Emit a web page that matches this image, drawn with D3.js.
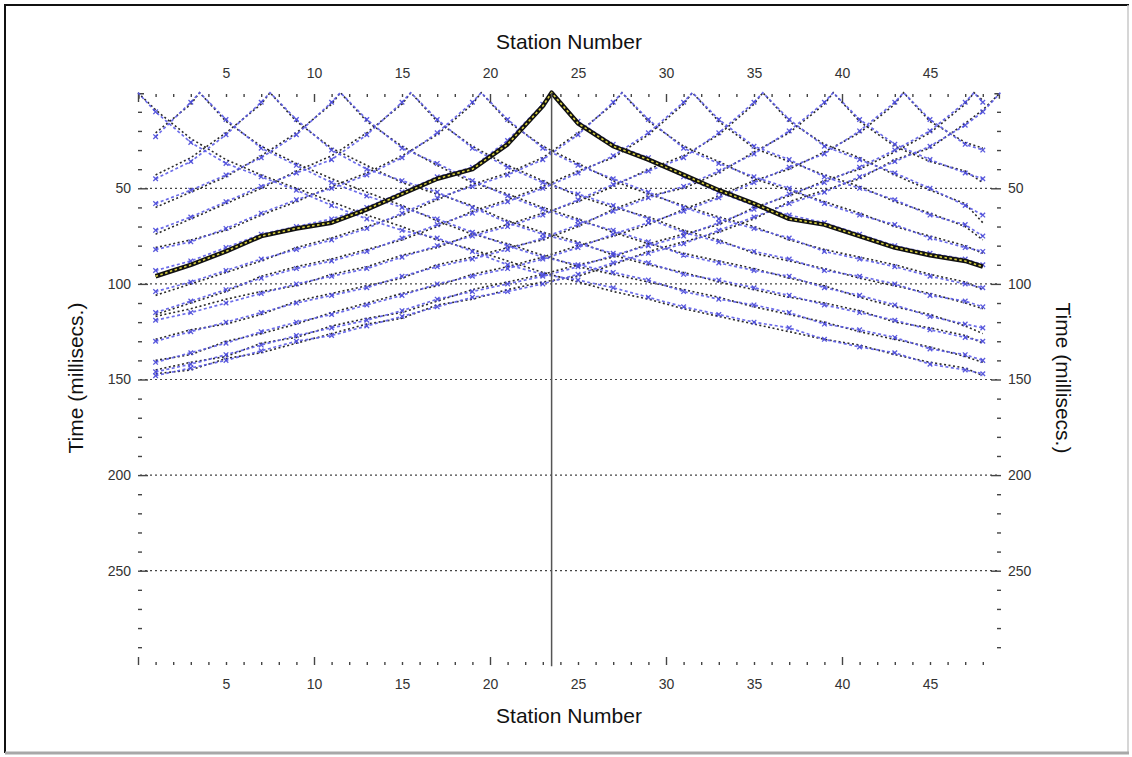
<html>
<meta charset="utf-8">
<script src="https://cdn.jsdelivr.net/npm/d3@7"></script>
<style>
body{
  margin: 0;
  background-color: white;
}
.axis text{
  font: 14px "Liberation Sans", Arial, sans-serif;
  fill: #333;
}
.axis line{
  stroke: #444;
  stroke-width: 1.4;
}
.title{
  font: 21px "Liberation Sans", Arial, sans-serif;
  fill: #111;
}
.grid{
  stroke: #444;
  stroke-width: 1.2;
  stroke-dasharray: 2,3;
}
.pick{
  fill: none;
  stroke: #5c5ce8;
  stroke-width: 1.7;
  stroke-dasharray: 3,2.5;
  opacity: 0.9;
}
.mark{
  fill: none;
  stroke: #4848d8;
  stroke-width: 1.3;
  opacity: 0.9;
}
.model{
  fill: none;
  stroke: #2a2a2a;
  stroke-width: 1.6;
  stroke-dasharray: 2,2.5;
}
</style>
<body>
<div id="chartDiv"></div>

<script>
// stations where picks were read, and shot positions (station numbers)
var stations = [1,3,5,7,9,11,13,15,17,19,21,23,25,27,29,31,33,35,37,39,41,43,45,47,48];
var shots = [0,3.5,7.5,11.5,15.5,19.5,23.5,27.5,31.5,35.5,39.5,43.5,47.5,49];
var activeShot = 23.5;

// picked first-break times (ms), one array per shot
var pick0    = [10,26,37,44,51,59,66,72,76,83,90,95,98,102,107,112,116,120,123,129,133,136,142,145,147];
var pick3_5  = [23,5,14,29,38,47,54,60,66,73,80,86,90,94,98,104,108,111,115,121,124,128,134,137,140];
var pick7_5  = [45,36,22,5,14,30,40,46,52,60,68,74,79,84,89,95,98,102,106,111,115,119,124,128,130];
var pick11_5 = [58,51,43,34,22,5,14,29,37,46,54,61,67,72,78,85,89,93,96,102,106,111,117,121,123];
var pick15_5 = [72,65,57,49,42,35,22,5,14,29,39,47,53,59,66,73,78,83,87,93,96,100,106,109,112];
var pick19_5 = [82,78,71,63,56,50,43,34,21,5,14,29,38,45,52,60,66,71,76,83,87,91,96,100,102];
var pick23_5 = [93,88,81,74,70,66,60,52,44,39,25,6,15,27,34,44,52,59,64,68,74,80,84,87,90];
var pick27_5 = [104,99,93,87,82,77,71,63,55,49,43,35,22,5,14,29,37,44,50,58,64,69,76,81,83];
var pick31_5 = [115,109,103,97,92,88,83,76,69,63,57,50,42,33,21,5,14,28,35,44,50,56,64,69,75];
var pick35_5 = [119,115,110,105,100,96,92,86,80,75,70,64,56,48,41,34,21,5,14,28,35,42,50,59,64];
var pick39_5 = [130,125,120,115,110,106,102,96,91,87,82,76,69,62,55,49,41,32,20,5,14,27,35,42,45];
var pick43_5 = [141,136,131,125,120,116,111,106,100,96,92,87,81,74,68,62,55,47,39,32,20,5,14,27,30];
var pick47_5 = [146,142,137,132,127,123,119,114,108,104,100,96,91,85,80,75,68,61,53,47,39,30,20,5,5];
var pick49   = [148,144,140,135,130,127,122,117,112,107,104,100,95,89,84,79,72,65,58,52,44,36,28,17,10];

// modelled times (ms)
var model0    = [9,24,35,43,50,57,64,70,77,82,88,94,99,104,108,113,117,121,125,129,132,137,141,144,148];
var model3_5  = [21,6,15,28,37,45,52,59,67,74,79,85,91,95,99,103,107,112,116,120,125,129,133,138,141];
var model7_5  = [43,34,21,6,15,29,38,47,53,59,67,73,78,85,90,94,99,103,107,110,114,120,123,127,131];
var model11_5 = [60,52,44,33,21,6,15,28,38,47,53,60,66,73,79,84,88,92,97,101,107,112,116,122,126];
var model15_5 = [74,66,58,50,41,33,21,6,15,28,38,46,54,60,65,72,77,84,88,92,97,101,105,110,113];
var model19_5 = [81,77,72,64,57,49,42,33,22,6,15,28,37,46,53,59,65,70,77,82,86,90,95,99,103];
var model23_5 = [96,90,83,75,71,68,61,53,45,40,27,7,16,28,35,43,51,58,66,69,75,81,85,88,91];
var model27_5 = [106,100,94,88,81,76,70,64,56,48,42,34,21,6,15,28,36,45,51,57,63,70,75,80,84];
var model31_5 = [116,110,104,96,91,87,82,77,70,62,56,49,41,34,22,6,15,29,36,43,49,57,63,70,77];
var model35_5 = [117,113,108,104,101,95,91,85,81,74,69,63,57,49,40,33,22,6,15,27,34,43,51,58,68];
var model39_5 = [129,124,121,116,109,105,101,97,90,86,81,77,70,61,54,50,42,31,21,6,15,28,36,41,47];
var model43_5 = [140,137,130,126,121,115,110,105,101,95,91,86,80,75,69,61,54,46,40,31,21,6,15,26,29];
var model47_5 = [145,141,138,131,128,122,118,115,109,103,99,95,90,86,79,74,69,60,54,46,40,31,21,6,4];
var model49   = [147,145,139,136,131,126,121,118,111,108,103,99,96,90,83,78,73,66,57,51,45,35,29,16,9];

var pickSets  = [pick0,pick3_5,pick7_5,pick11_5,pick15_5,pick19_5,pick23_5,pick27_5,pick31_5,pick35_5,pick39_5,pick43_5,pick47_5,pick49];
var modelSets = [model0,model3_5,model7_5,model11_5,model15_5,model19_5,model23_5,model27_5,model31_5,model35_5,model39_5,model43_5,model47_5,model49];

var gridTimes = [50,100,150,200,250];

var width = 1132, height = 757;

var svg = d3.select("#chartDiv").append("svg").attr("width",width).attr("height",height);

// window frame
svg.append("rect").attr("width",width).attr("height",height).attr("fill","white");
svg.append("line").attr("x1",4).attr("x2",1129).attr("y1",5).attr("y2",5).attr("stroke","#111").attr("stroke-width",2);
svg.append("line").attr("x1",5).attr("x2",5).attr("y1",4).attr("y2",753).attr("stroke","#111").attr("stroke-width",2);
svg.append("line").attr("x1",1128).attr("x2",1128).attr("y1",5).attr("y2",753).attr("stroke","#c8c8c8").attr("stroke-width",1.5);
svg.append("line").attr("x1",5).attr("x2",1129).attr("y1",753).attr("y2",753).attr("stroke","#a8a8a8").attr("stroke-width",3);

var x = d3.scaleLinear().domain([0,49]).range([138,1000.4]);
var y = d3.scaleLinear().domain([0,300]).range([92.7,666.3]);

// grid
svg.selectAll(".grid").data(gridTimes).enter().append("line")
  .attr("class","grid")
  .attr("x1",x(0)+2).attr("x2",x(49)-1)
  .attr("y1",function(d){return y(d)}).attr("y2",function(d){return y(d)});

// axes
var stationLabel = function(d){ return (d%5===0 && d>0) ? d : ""; };

var topG = svg.append("g").attr("class","axis").attr("transform","translate(0,93)")
  .call(d3.axisTop(x).tickValues(d3.range(0,49)).tickSize(-4).tickPadding(15).tickFormat(stationLabel));
topG.select(".domain").remove();
topG.selectAll(".tick line").attr("y1",1).attr("y2",function(d){return d%10===0 ? 9 : 4});

var botG = svg.append("g").attr("class","axis").attr("transform","translate(0,666)")
  .call(d3.axisBottom(x).tickValues(d3.range(0,49)).tickSize(-4).tickPadding(13).tickFormat(stationLabel));
botG.select(".domain").remove();
botG.selectAll(".tick line").attr("y1",-1).attr("y2",function(d){return d%10===0 ? -9 : -4});

var timeLabel = function(d){ return d%50===0 ? d : ""; };

var leftG = svg.append("g").attr("class","axis").attr("transform","translate(140,0)")
  .call(d3.axisLeft(y).tickValues(d3.range(10,300,10)).tickSize(0).tickPadding(9).tickFormat(timeLabel));
leftG.select(".domain").remove();
leftG.selectAll(".tick line").attr("x1",-2).attr("x2",function(d){return d%50===0 ? 8 : 2});

var rightG = svg.append("g").attr("class","axis").attr("transform","translate(999,0)")
  .call(d3.axisRight(y).tickValues(d3.range(10,300,10)).tickSize(0).tickPadding(9).tickFormat(timeLabel));
rightG.select(".domain").remove();
rightG.selectAll(".tick line").attr("x1",function(d){return d%50===0 ? -8 : -2}).attr("x2",2);

// little corner brackets of the plot frame
svg.append("path").attr("d","M" + (x(0)+1) + "," + (y(0)+6) + "V" + (y(0)+1) + "H" + (x(0)+6))
  .attr("fill","none").attr("stroke","#444").attr("stroke-width",1.4);
svg.append("path").attr("d","M" + (x(49)-6) + "," + (y(0)+1) + "H" + (x(49)-1) + "V" + (y(0)+6))
  .attr("fill","none").attr("stroke","#444").attr("stroke-width",1.4);

// titles
svg.append("text").attr("class","title").attr("x",569).attr("y",49).attr("text-anchor","middle").text("Station Number");
svg.append("text").attr("class","title").attr("x",569).attr("y",723).attr("text-anchor","middle").text("Station Number");
svg.append("text").attr("class","title").attr("text-anchor","middle")
  .attr("transform","translate(83,378) rotate(-90)").text("Time (millisecs.)");
svg.append("text").attr("class","title").attr("text-anchor","middle")
  .attr("transform","translate(1056,378) rotate(90)").text("Time (millisecs.)");

// traveltime curves
function curveData(shot, vals){
  var pts = stations.map(function(s,i){ return [s, vals[i]]; });
  pts.push([shot, 0]);
  pts.sort(function(a,b){ return a[0]-b[0]; });
  return pts;
}

var line = d3.line().x(function(d){return x(d[0])}).y(function(d){return y(d[1])});

var curveG = svg.append("g");

shots.forEach(function(shot, i){
  curveG.append("path").attr("class","model").attr("d", line(curveData(shot, modelSets[i])));
});

shots.forEach(function(shot, i){
  var pts = curveData(shot, pickSets[i]);
  curveG.append("path").attr("class","pick").attr("d", line(pts));
  curveG.selectAll(null).data(pts.filter(function(d){return d[1] > 0})).enter().append("path")
    .attr("class","mark")
    .attr("transform",function(d){return "translate(" + x(d[0]) + "," + y(d[1]) + ")"})
    .attr("d","M-2.3,-2.3L2.3,2.3M-2.3,2.3L2.3,-2.3");
});

// highlighted shot
var activeIndex = shots.indexOf(activeShot);
var activePts = curveData(activeShot, modelSets[activeIndex]);
curveG.append("path").attr("d", line(activePts))
  .attr("fill","none").attr("stroke","#111").attr("stroke-width",4.5).attr("stroke-linejoin","round");
curveG.append("path").attr("d", line(activePts))
  .attr("fill","none").attr("stroke","#d8d040").attr("stroke-width",1.6).attr("stroke-dasharray","2.5,2.5");

// shot position marker
svg.append("line")
  .attr("x1",x(activeShot)).attr("x2",x(activeShot))
  .attr("y1",y(0)).attr("y2",y(300))
  .attr("stroke","#555").attr("stroke-width",1.5);
</script>
</body>
</html>
